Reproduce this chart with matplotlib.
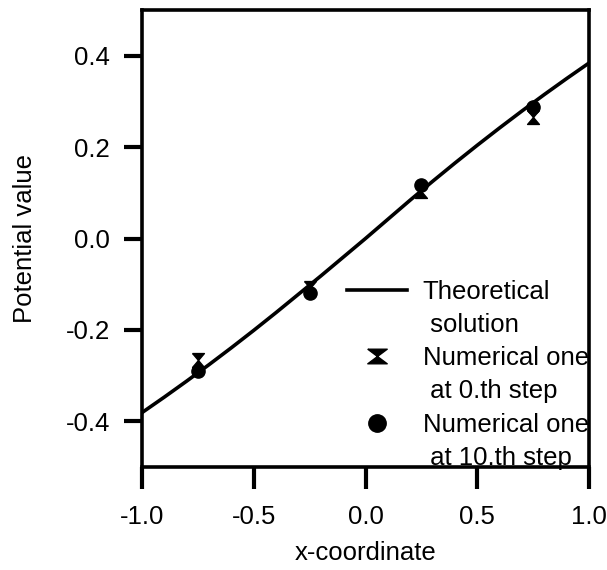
import numpy as np
import matplotlib
matplotlib.use('Agg')
import matplotlib.pyplot as plt
from matplotlib.lines import Line2D

plt.rcParams['font.family'] = ['Liberation Sans', 'DejaVu Sans']
plt.rcParams['axes.unicode_minus'] = False

# theoretical curve
x_theory = [-1.0, -0.9, -0.8, -0.7, -0.6, -0.5, -0.4, -0.3, -0.2, -0.1, 0.0,
            0.1, 0.2, 0.3, 0.4, 0.5, 0.6, 0.7, 0.8, 0.9, 1.0]
y_theory = [-0.381, -0.347, -0.312, -0.276, -0.239, -0.201, -0.162, -0.122, -0.082, -0.041, 0.0,
            0.042, 0.084, 0.125, 0.165, 0.204, 0.242, 0.279, 0.315, 0.350, 0.384]

# numerical solutions
x_num = [-0.75, -0.25, 0.25, 0.75]
y_step0 = [-0.266, -0.109, 0.103, 0.266]
y_step10 = [-0.290, -0.120, 0.117, 0.288]

xticks = [-1.0, -0.5, 0.0, 0.5, 1.0]
yticks = [-0.4, -0.2, 0.0, 0.2, 0.4]

fs = 18.5
lw = 2.6

# hourglass marker (two filled triangles touching at the centre)
def hourglass(w, h):
    return [(-w, h), (w, h), (0, 0), (w, -h), (-w, -h), (0, 0), (-w, h)]

fig = plt.figure(figsize=(6.07, 5.70), dpi=100)
ax = fig.add_axes([142/607, 1 - 467/570, 447/607, 457/570])

ax.plot(x_theory, y_theory, 'k-', lw=lw, solid_capstyle='butt')
ax.plot(x_num, y_step10, 'ko', ms=9.5, ls='none')
ax.plot(x_num, y_step0, color='k', marker=hourglass(0.85, 1), ms=10, ls='none')

ax.set_xlim(-1, 1)
ax.set_ylim(-0.5, 0.5)
ax.set_xticks(xticks)
ax.set_yticks(yticks)
ax.set_xticklabels(['%.1f' % v for v in xticks])
ax.set_yticklabels(['%.1f' % v for v in yticks])

for s in ax.spines.values():
    s.set_linewidth(lw)
ax.tick_params(axis='x', direction='out', length=16, width=3, pad=11, labelsize=fs)
ax.tick_params(axis='y', direction='out', length=13, width=3, pad=10, labelsize=fs)

ax.set_xlabel('x-coordinate', fontsize=fs)
ax.set_ylabel('Potential value', fontsize=fs)
ax.xaxis.set_label_coords(0.5, -0.163)
ax.yaxis.set_label_coords(-0.235, 0.5)

# legend: handles sit on the first line of each two-line label
blank = Line2D([], [], ls='none')
handles = [
    Line2D([], [], color='k', lw=lw),
    blank,
    Line2D([], [], color='k', ls='none', marker=hourglass(1, 0.75), ms=14),
    blank,
    Line2D([], [], color='k', ls='none', marker='o', ms=12.5),
    blank,
]
labels = ['Theoretical', ' solution',
          'Numerical one', ' at 0.th step',
          'Numerical one', ' at 10.th step']
ax.legend(handles, labels, loc='upper left', bbox_to_anchor=(0.4586, 0.41),
          frameon=False, fontsize=fs, borderpad=0, borderaxespad=0,
          handlelength=2.35, handletextpad=0.6, labelspacing=0.36)

fig.savefig('out.png', dpi=100)
